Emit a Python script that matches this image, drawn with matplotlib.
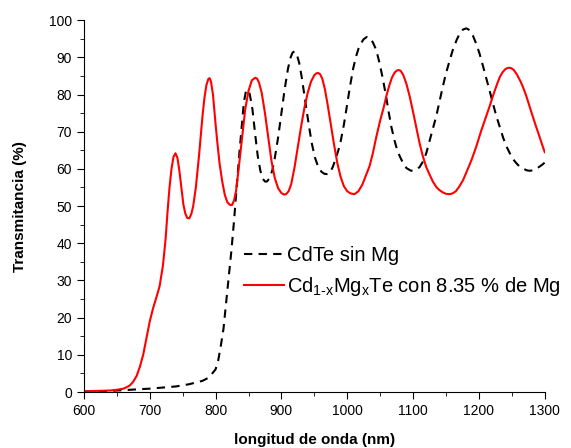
import matplotlib
matplotlib.use("Agg")
import matplotlib.pyplot as plt
import numpy as np

plt.rcParams['font.family'] = ['Liberation Sans', 'DejaVu Sans']
plt.rcParams['mathtext.fontset'] = 'custom'
plt.rcParams['mathtext.rm'] = 'Liberation Sans'

# CdTe sin Mg (black dashed)
wl_cdte = [600, 620, 640, 660, 680, 700, 720, 740, 760, 780, 790, 800, 804, 808, 812,
           816, 820, 824, 828, 832, 836, 840, 843, 846, 849, 852, 856, 860, 864, 868,
           872, 875, 878, 882, 886, 890, 895, 900, 905, 910, 914, 917, 920, 923, 927,
           931, 936, 941, 946, 951, 956, 961,
           965, 969, 973, 978, 983, 989, 995, 1000, 1004, 1009, 1013, 1017, 1021, 1025,
           1030, 1034, 1039, 1044, 1049, 1054, 1059, 1063, 1067, 1072, 1076, 1080, 1085,
           1090, 1097, 1103, 1110, 1115, 1120, 1125, 1130, 1135, 1140, 1145, 1150, 1155,
           1160, 1166, 1171, 1176, 1181, 1186, 1191, 1196, 1201, 1206, 1211, 1216, 1221,
           1226, 1232, 1237, 1242, 1247, 1252, 1257, 1262, 1268, 1273, 1277, 1282, 1287,
           1292, 1296, 1300]
t_cdte = [0.1, 0.2, 0.3, 0.5, 0.7, 0.9, 1.2, 1.5, 2.1, 3.0, 3.9, 6.1, 8.5, 12.5, 17,
          24, 31, 38, 46, 55, 64, 72, 78, 80.8, 81.3, 80, 76, 69.5, 63.5, 59.5,
          57.3, 56.6, 56.6, 57.5, 59.5, 63, 68.5, 75, 81.5, 87, 90, 91.3, 91.6, 91, 88.5,
          84.5, 78.5, 72.5, 67, 63, 60.5, 59.2,
          58.7, 58.6, 58.8, 60.5, 63, 66.5, 72, 77.5, 82, 87, 90, 92.3, 93.8, 94.9,
          95.5, 95.3, 94, 92, 88.5, 84.3, 79.5, 75.2, 71.3, 67.5, 65, 63.3, 61.5,
          60.2, 59.5, 59.6, 60.5, 62, 64.2, 67.5, 70.8, 74, 78, 82, 85.7, 88.8,
          91.8, 94.6, 96.5, 97.5, 97.8, 97.3, 95.8, 93.6, 91, 87.8, 84.5, 81.2, 77.8,
          74.5, 71.1, 68.3, 66, 64.2, 62.6, 61.5, 60.6, 60, 59.6, 59.5, 59.6, 60,
          60.6, 61.1, 61.7]

# Cd1-xMgxTe con 8.35 % de Mg (red)
wl_mg = [600, 620, 640, 650, 660, 665, 670, 675, 680, 685, 690, 695, 700, 705, 710,
         715, 720, 724, 727, 730, 733, 736, 739, 742, 745, 748, 751, 754, 757, 760,
         763, 766, 770, 775, 780, 783, 786, 789, 791, 793, 796, 800, 803, 806, 810,
         814, 818, 822, 825, 828, 831, 835, 840, 845, 850, 855, 860, 863, 866, 870,
         875, 880, 885, 890, 895, 900, 904, 907, 911, 915, 920, 925, 930, 935, 940,
         945, 950, 953, 956, 959, 962, 966, 970, 975, 980, 985, 990, 995, 1000,
         1005, 1011, 1017, 1023, 1029, 1034, 1039, 1044, 1050, 1055, 1060, 1064, 1068,
         1072, 1075, 1078, 1081, 1085, 1090, 1095, 1100, 1105, 1110, 1115, 1120, 1125,
         1130, 1135, 1140, 1145, 1150, 1155, 1160, 1165, 1170, 1176, 1182, 1189, 1196,
         1203, 1210, 1216, 1222, 1228, 1232, 1236, 1240, 1243, 1246, 1249, 1253, 1258,
         1263, 1267, 1272, 1277, 1282, 1287, 1292, 1297, 1300]
t_mg = [0.2, 0.3, 0.4, 0.6, 0.9, 1.3, 1.8, 2.8, 4.3, 6.8, 10, 14.5, 19, 22.5, 25.4,
        28.5, 34, 41, 48.5, 55, 60, 63.2, 64.2, 63, 59.5, 55, 50.5, 48, 46.8, 46.7,
        47.8, 50, 55, 63.9, 74, 79, 82.5, 84.2, 84.4, 83.5, 80, 72, 66.5, 61.5, 56.7,
        53, 51, 50.3, 50.3, 51.5, 54, 60, 68, 76, 81, 83.8, 84.5, 84.3, 83.2, 80.5,
        75, 68.5, 62, 57.5, 54.8, 53.5, 53.1, 53.2, 54, 56, 60.5, 66, 71.5, 76.5, 80.5,
        83.5, 85.2, 85.7, 85.8, 85.4, 84.3, 81.5, 77.5, 72, 66.5, 61.5, 57.8, 55.3, 54,
        53.4, 53.2, 54, 55.8, 58.5, 60.8, 64.3, 68.5, 73, 76.3, 80, 82.5, 84.6,
        85.9, 86.4, 86.6, 86.4, 85.3, 82.8, 79.4, 75.3, 71, 66.8, 63.3, 60.5, 58.5,
        56.6, 55.2, 54.3, 53.7, 53.3, 53.2, 53.4, 54, 55.2, 57, 59.5, 62.5, 66,
        70, 73.6, 76.7, 80, 83, 84.8, 86, 86.8, 87.1, 87.2, 87.1, 86.6, 85.3,
        83.6, 82, 79.6, 76.8, 74, 71.3, 68.7, 66, 64.5]

fig = plt.figure(figsize=(5.71, 4.48), dpi=100)
ax = fig.add_axes([0.147, 0.125, 0.807, 0.830])

ax.plot(wl_cdte, t_cdte, color='black', lw=1.5, ls=(0, (4, 3)), label='CdTe sin Mg')
ax.plot(wl_mg, t_mg, color='#ff0000', lw=1.5,
        label=r'Cd$_{\text{1-x}}$Mg$_{\text{x}}$Te con 8.35 % de Mg')

ax.set_xlim(600, 1300)
ax.set_ylim(0, 100)
ax.set_xticks(np.arange(600, 1301, 100))
ax.set_xticks(np.arange(650, 1300, 100), minor=True)
ax.set_yticks(np.arange(0, 101, 10))
ax.set_yticks(np.arange(5, 100, 10), minor=True)
ax.spines['top'].set_visible(False)
ax.spines['right'].set_visible(False)
ax.tick_params(which='major', direction='out', length=5, labelsize=10)
ax.tick_params(which='minor', direction='out', length=3)

ax.set_xlabel('longitud de onda (nm)', fontsize=11, fontweight='bold', labelpad=11)
ax.set_ylabel('Transmitancia (%)', fontsize=11, fontweight='bold', labelpad=16)

ax.legend(loc='upper left', bbox_to_anchor=(0.33, 0.415), frameon=False, fontsize=14.5,
          handlelength=2.0, handletextpad=0.15, labelspacing=0.5, borderaxespad=0)

fig.savefig('out.png', dpi=100)
